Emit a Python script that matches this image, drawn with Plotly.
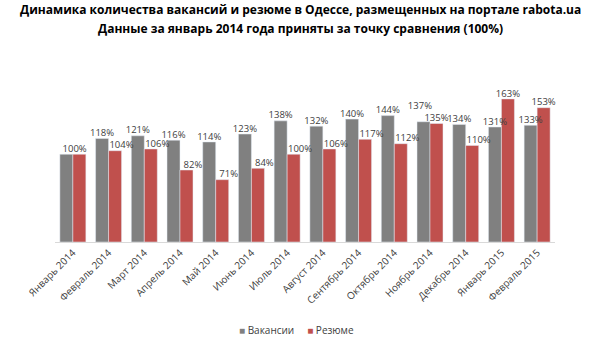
import plotly.graph_objects as go

categories = ["Январь 2014", "Февраль 2014", "Март 2014", "Апрель 2014", "Май 2014",
              "Июнь 2014", "Июль 2014", "Август 2014", "Сентябрь 2014", "Октябрь 2014",
              "Ноябрь 2014", "Декабрь 2014", "Январь 2015", "Февраль 2015"]
vacancies = [100, 118, 121, 116, 114, 123, 138, 132, 140, 144, 137, 134, 131, 133]
resumes = [100, 104, 106, 82, 71, 84, 100, 106, 117, 112, 135, 110, 163, 153]

FONT = "Open Sans"
GRAY = "#808080"
RED = "#c0504d"
TXT = "#404040"
BW = 0.364  # bar width in category units

idx = list(range(len(categories)))

fig = go.Figure()
fig.add_trace(go.Bar(x=idx, y=vacancies, name="Вакансии", marker_color=GRAY,
                     width=BW, offset=-BW, showlegend=False))
fig.add_trace(go.Bar(x=idx, y=resumes, name="Резюме", marker_color=RED,
                     width=BW, offset=0, showlegend=False))

# data labels (Excel-like placement: lower red labels nudged right, crowded labels lifted)
gx, gy, gt, rx, ry, rt = [], [], [], [], [], []
for i, (v, r) in enumerate(zip(vacancies, resumes)):
    if v == r:
        gx.append(i + 0.05); gy.append(v); gt.append(f"{v}%")
        continue
    if abs(v - r) < 10:
        gx.append(i - BW / 2 - 0.1); gy.append(v + (12 if v > r else 0)); gt.append(f"{v}%")
        rx.append(i + BW / 2); ry.append(r + (12 if r > v else 0)); rt.append(f"{r}%")
    else:
        gx.append(i - BW / 2); gy.append(v); gt.append(f"{v}%")
        rx.append(i + BW / 2 + (0.18 if r < v else 0)); ry.append(r); rt.append(f"{r}%")

for xs, ys, ts in [(gx, gy, gt), (rx, ry, rt)]:
    fig.add_trace(go.Scatter(x=xs, y=ys, text=ts, mode="text", textposition="top center",
                             textfont=dict(size=9.5, color=TXT, family=FONT),
                             showlegend=False, hoverinfo="skip", cliponaxis=False))

T, B, L, R = 84, 105, 55, 45
H = 347 - T - B

def py(ypix):
    return (347 - B - ypix) / H

def px(xpix):
    return (xpix - L) / (600 - L - R)

fig.update_layout(
    width=600, height=347,
    margin=dict(l=L, r=R, t=T, b=B),
    paper_bgcolor="white", plot_bgcolor="white",
    font=dict(family=FONT, size=10, color=TXT),
    showlegend=False,
)
fig.add_annotation(text="<b>Динамика количества вакансий и резюме в Одессе, размещенных на портале rabota.ua</b>",
                   x=px(300), y=py(10), xref="paper", yref="paper", showarrow=False,
                   xanchor="center", yanchor="middle",
                   font=dict(size=12, color="#000000", family=FONT))
fig.add_annotation(text="<b>Данные за январь 2014 года приняты за точку сравнения (100%)</b>",
                   x=px(300), y=py(29), xref="paper", yref="paper", showarrow=False,
                   xanchor="center", yanchor="middle",
                   font=dict(size=12, color="#000000", family=FONT))
# legend
fig.add_annotation(
    text=(f"<span style='color:{GRAY}'>■</span> Вакансии     "
          f"<span style='color:{RED}'>■</span> Резюме"),
    x=px(296), y=py(330), xref="paper", yref="paper", showarrow=False,
    xanchor="center", yanchor="middle", font=dict(size=10, color=TXT, family=FONT))

fig.update_xaxes(showline=True, linecolor="#d9d9d9", linewidth=1, ticks="",
                 range=[-0.5, len(categories) - 0.5],
                 tickmode="array", tickvals=idx, ticktext=categories,
                 tickangle=-45, tickfont=dict(size=10, color=TXT), showgrid=False,
                 zeroline=False)
fig.update_yaxes(range=[0, 180], visible=False, showgrid=False)

fig.write_html("out.html")
